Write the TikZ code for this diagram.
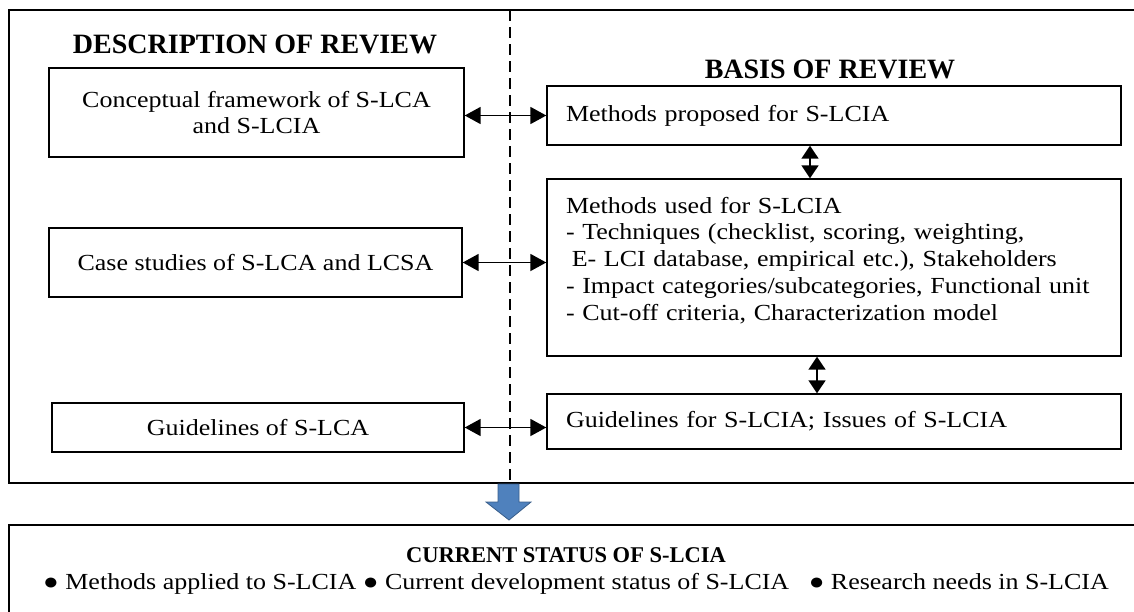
\documentclass[tikz,border=0pt]{standalone}
\usepackage{fontspec}
\setmainfont{Liberation Serif}
\newfontfamily\bodyfont{Liberation Serif}[FakeStretch=1.13]
\usetikzlibrary{arrows.meta}
\definecolor{arrowfill}{HTML}{4F81BD}
\definecolor{arrowline}{HTML}{385D8A}
\tikzset{
  frame/.style={draw=black, line width=1.8pt},
  lbox/.style={draw=black, line width=1.4pt, align=center, inner sep=0pt, font=\bodyfont\fontsize{23}{26.7}\selectfont},
  rbox/.style={draw=black, line width=1.4pt, align=left, inner sep=0pt, text width=536pt, font=\bodyfont\fontsize{23}{26.7}\selectfont},
  sect/.style={font=\fontsize{28}{32}\selectfont\bfseries},
  dbl/.style={{Triangle[length=16pt,width=17pt]}-{Triangle[length=16pt,width=17pt]}, line width=1.8pt},
  vdbl/.style={{Triangle[length=13pt,width=17pt]}-{Triangle[length=13pt,width=17pt]}, line width=1.8pt},
  divider/.style={dashed, dash pattern=on 11pt off 6pt, line width=1.4pt},
  bigarrow/.style={fill=arrowfill, draw=arrowline, line width=0.8pt}
}
\begin{document}
\begin{tikzpicture}[x=1pt,y=-1pt]
\useasboundingbox (0,0) rectangle (1134,611);
\clip (0,0) rectangle (1134,611);
% outer frame
\draw[frame] (9,10) rectangle (1140,483);
% divider
\coordinate (dtop) at (510,10);
\coordinate (dbot) at (510,480);
\draw[divider] (dtop) -- (dbot);
% section titles
\node[sect] (tl) at (255,44) {DESCRIPTION OF REVIEW};
\node[sect] (tr) at (830,69) {BASIS OF REVIEW};
% left boxes
\node[lbox, minimum width=415pt, minimum height=89pt] (L1) at (256.5,112.5) {Conceptual framework of S-LCA\\and S-LCIA};
\node[lbox, minimum width=413pt, minimum height=69pt] (L2) at (255.5,262.5) {Case studies of S-LCA and LCSA};
\node[lbox, minimum width=412pt, minimum height=49pt] (L3) at (258,427.5) {Guidelines of S-LCA};
% right boxes
\node[rbox, minimum width=574pt, minimum height=59pt] (R1) at (834,115.5) {Methods proposed for S-LCIA};
\node[rbox, minimum width=574pt, minimum height=177pt] (R2) at (834,267.5) {Methods used for S-LCIA\\
- Techniques (checklist, scoring, weighting,\\
\hspace*{0.25em}E- LCI database, empirical etc.), Stakeholders\\
- Impact categories/subcategories, Functional unit\\
- Cut-off criteria, Characterization model\rule[-18pt]{0pt}{0pt}};
\node[rbox, minimum width=574pt, minimum height=55pt] (R3) at (834,421.5) {Guidelines for S-LCIA; Issues of S-LCIA};
% horizontal connectors
\draw[dbl] (L1.east |- R1.west) -- (R1.west);
\draw[dbl] (L2.east) -- (L2.east -| R2.west);
\draw[dbl] (L3.east) -- (L3.east -| R3.west);
% vertical connectors
\coordinate (v1) at (810,0);
\coordinate (v2) at (817,0);
\draw[vdbl] (R1.south -| v1) -- (R2.north -| v1);
\draw[vdbl] (R2.south -| v2) -- (R3.north -| v2);
% bottom box
\draw[frame] (9,525) rectangle (1140,640);
\node[font=\fontsize{22.5}{26}\selectfont\bfseries] (bt) at (566,555) {CURRENT STATUS OF S-LCIA};
\node[font=\bodyfont\fontsize{23}{26}\selectfont] (bb) at (576,584) {● Methods applied to S-LCIA ● Current development status of S-LCIA\ \ \ ● Research needs in S-LCIA};
% big arrow (connector from the review frame to the status box)
\draw[bigarrow] (498,484) -- (519,484) -- (519,502) -- (531,502) -- (509,520) -- (486,502) -- (498,502) -- cycle;
\end{tikzpicture}
\end{document}
